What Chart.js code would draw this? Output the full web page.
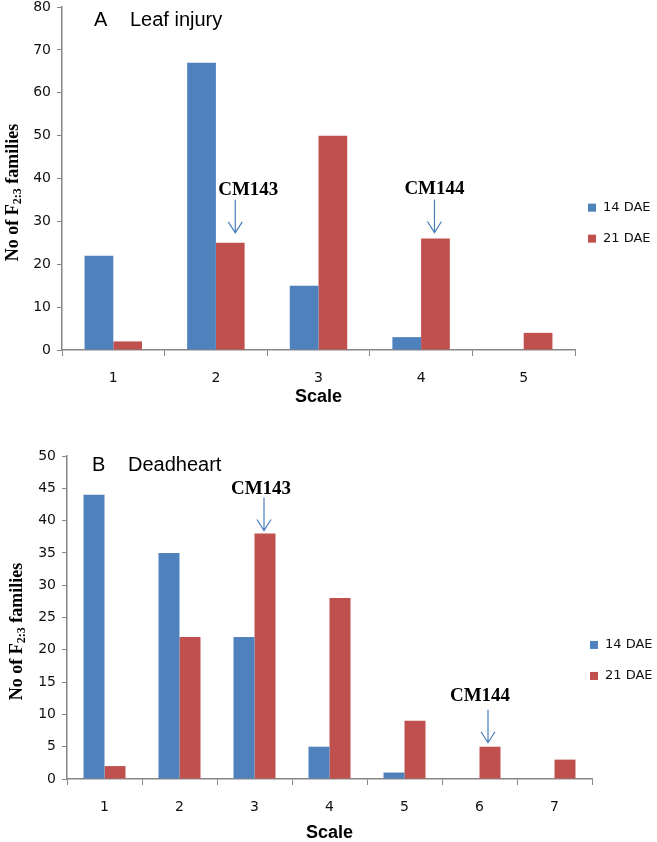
<!DOCTYPE html>
<html>
<head>
<meta charset="utf-8">
<script src="https://cdn.jsdelivr.net/npm/chart.js@4/dist/chart.umd.min.js"></script>
<style>
  body { margin: 0; background: #fff; }
  canvas { display: block; }
</style>
</head>
<body>
<canvas id="leafChart" width="657" height="408"></canvas>
<canvas id="deadChart" width="657" height="434"></canvas>
<script>
// data
const scaleA = ['1', '2', '3', '4', '5'];
const dae14A = [22, 67, 15, 3, 0];
const dae21A = [2, 25, 50, 26, 4];

const scaleB = ['1', '2', '3', '4', '5', '6', '7'];
const dae14B = [44, 35, 22, 5, 1, 0, 0];
const dae21B = [2, 22, 38, 28, 9, 5, 3];

const seriesNames = ['14 DAE', '21 DAE'];
const yMaxA = 80, yStepA = 10;
const yMaxB = 50, yStepB = 5;

const BLUE = '#4F81BD';
const RED = '#C0504D';
const AXIS = '#868686';

// draws panel title, y title with subscript, legend and the CM arrows
const decor = {
   id: 'decor',
   afterDraw(chart, args, o) {
      const ctx = chart.ctx;
      const area = chart.chartArea;
      ctx.save();

      ctx.fillStyle = '#000';
      ctx.textBaseline = 'middle';
      ctx.textAlign = 'left';
      ctx.font = '20px "Liberation Sans", Arial, sans-serif';
      ctx.fillText(o.letter, o.titleX, o.titleY);
      ctx.fillText(o.title, o.titleX + 36, o.titleY);

      // y axis title: No of F(2:3) families
      const parts = [
         { t: 'No of F', f: 'bold 18px "Liberation Serif", serif', dy: 0 },
         { t: '2:3', f: 'bold 12px "Liberation Serif", serif', dy: 5 },
         { t: ' families', f: 'bold 18px "Liberation Serif", serif', dy: 0 }
      ];
      let total = 0;
      parts.forEach(p => { ctx.font = p.f; p.w = ctx.measureText(p.t).width; total += p.w; });
      ctx.save();
      ctx.translate(o.yTitleX, (area.top + area.bottom) / 2 + 14);
      ctx.rotate(-Math.PI / 2);
      let x = -total / 2;
      parts.forEach(p => { ctx.font = p.f; ctx.fillText(p.t, x, p.dy); x += p.w; });
      ctx.restore();

      // legend
      const ly = area.top + 0.585 * (area.bottom - area.top);
      ctx.font = '13px "DejaVu Sans", sans-serif';
      chart.data.datasets.forEach((ds, i) => {
         const y = ly + i * 31;
         ctx.fillStyle = ds.backgroundColor;
         ctx.fillRect(o.legendX, y - 4, 8, 8);
         ctx.fillStyle = '#111';
         ctx.fillText(ds.label, o.legendX + 15, y);
      });

      // CM markers
      const meta = chart.getDatasetMeta(1);
      ctx.strokeStyle = '#4A7EBB';
      ctx.lineWidth = 1.2;
      o.markers.forEach(m => {
         const bar = meta.data[m.index];
         const ax = bar.x + m.ax;
         const tip = bar.y - m.gap;
         const top = tip - 33;
         ctx.beginPath();
         ctx.moveTo(ax, top);
         ctx.lineTo(ax, tip);
         ctx.moveTo(ax - 7, tip - 11);
         ctx.lineTo(ax, tip);
         ctx.lineTo(ax + 7, tip - 11);
         ctx.stroke();
         ctx.fillStyle = '#000';
         ctx.textAlign = 'center';
         ctx.font = 'bold 19px "Liberation Serif", serif';
         ctx.fillText(m.label, bar.x + m.tx, top - m.tgap);
      });

      ctx.restore();
   }
};

function makeChart(id, labels, blue, red, yMax, yStep, pad, d) {
   return new Chart(document.getElementById(id), {
      type: 'bar',
      data: {
         labels: labels,
         datasets: [
            { label: seriesNames[0], data: blue, backgroundColor: BLUE },
            { label: seriesNames[1], data: red, backgroundColor: RED }
         ]
      },
      options: {
         responsive: false,
         animation: false,
         categoryPercentage: 0.56,
         barPercentage: 1,
         layout: { padding: pad },
         plugins: {
            legend: { display: false },
            tooltip: { enabled: false },
            decor: d
         },
         scales: {
            x: {
               afterFit(scale) { scale.height = d.xHeight; },
               grid: { offset: true, drawOnChartArea: false, tickLength: 6, color: AXIS },
               border: { color: AXIS, width: 1.5 },
               ticks: { padding: 14, color: '#111', font: { family: '"DejaVu Sans"', size: 14 } },
               title: {
                  display: true,
                  text: 'Scale',
                  color: '#000',
                  padding: { top: 0, bottom: d.scalePad },
                  font: { family: '"Liberation Sans", Arial', size: 18, weight: 'bold' }
               }
            },
            y: {
               min: 0,
               max: yMax,
               afterFit(scale) { scale.width = 30; scale.paddingTop = 0; },
               grid: { drawOnChartArea: false, tickLength: 5, color: AXIS },
               border: { color: AXIS, width: 1.5 },
               ticks: { stepSize: yStep, padding: 6, color: '#111', font: { family: '"DejaVu Sans"', size: 14 } }
            }
         }
      },
      plugins: [decor]
   });
}

makeChart('leafChart', scaleA, dae14A, dae21A, yMaxA, yStepA,
   { top: 7, left: 32, right: 82, bottom: 0 },
   {
      letter: 'A', title: 'Leaf injury', titleX: 94, titleY: 20, yTitleX: 13,
      xHeight: 58, scalePad: 0, legendX: 588,
      markers: [
         { label: 'CM143', index: 1, ax: 5, tx: 18, gap: 10, tgap: 10 },
         { label: 'CM144', index: 3, ax: -1, tx: -1, gap: 6, tgap: 10 }
      ]
   });

makeChart('deadChart', scaleB, dae14B, dae21B, yMaxB, yStepB,
   { top: 48, left: 37, right: 65, bottom: 0 },
   {
      letter: 'B', title: 'Deadheart', titleX: 92, titleY: 57, yTitleX: 17,
      xHeight: 63, scalePad: -2, legendX: 590,
      markers: [
         { label: 'CM143', index: 2, ax: -1, tx: -4, gap: 3, tgap: 8 },
         { label: 'CM144', index: 5, ax: -2, tx: -10, gap: 4, tgap: 14 }
      ]
   });
</script>
</body>
</html>
